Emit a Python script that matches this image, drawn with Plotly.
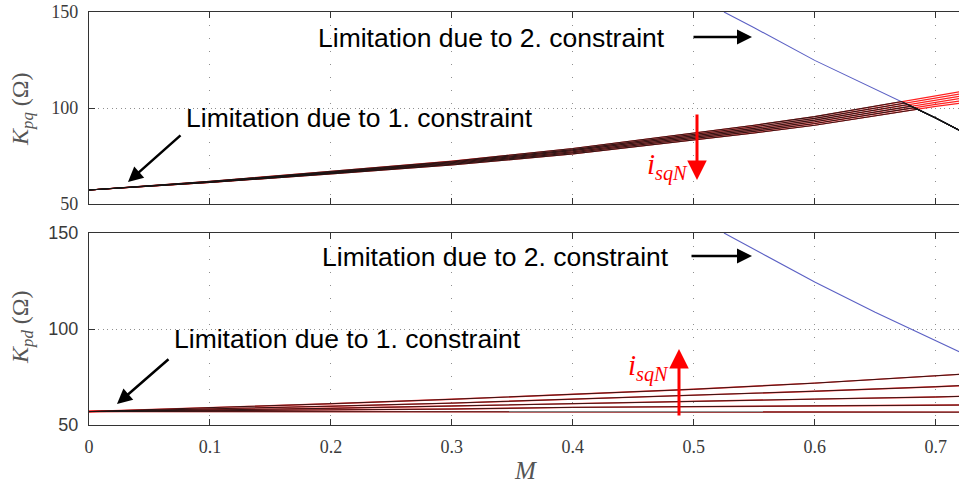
import numpy as np
import plotly.graph_objects as go

# ---------------- data ----------------
M_TOP = [0, 0.1, 0.2, 0.3, 0.4, 0.5, 0.55, 0.6, 0.65, 0.7, 0.72]
KPQ_1 = [57.3, 61.2, 65.7, 70.3, 76.1, 83.2, 87.0, 91.0, 96.0, 100.8, 102.5]
KPQ_2 = [57.3, 61.3, 65.9, 70.7, 76.7, 83.9, 87.8, 91.9, 97.0, 101.9, 103.7]
KPQ_3 = [57.3, 61.4, 66.2, 71.1, 77.2, 84.6, 88.6, 92.8, 98.0, 103.0, 104.9]
KPQ_4 = [57.3, 61.6, 66.4, 71.5, 77.8, 85.4, 89.4, 93.7, 99.0, 104.2, 106.1]
KPQ_5 = [57.3, 61.7, 66.7, 71.9, 78.3, 86.1, 90.2, 94.6, 100.0, 105.3, 107.3]
KPQ_6 = [57.3, 61.8, 67.0, 72.3, 78.9, 86.8, 91.0, 95.5, 101.0, 106.4, 108.5]

M_LIM2 = [0.525, 0.55, 0.6, 0.65, 0.7, 0.72]
KPQ_LIM2 = [150, 141.8, 124.8, 110.0, 94.8, 88.2]
KPD_LIM2 = [150, 141.5, 124.5, 108.7, 94.0, 88.0]

M_BOT = [0, 0.1, 0.2, 0.3, 0.4, 0.5, 0.6, 0.7, 0.72]
KPD_1 = [57.0, 59.0, 61.1, 63.4, 65.9, 68.6, 71.8, 75.4, 76.4]
KPD_2 = [57.0, 58.3, 59.8, 61.4, 63.4, 65.4, 67.6, 69.9, 70.5]
KPD_3 = [57.0, 57.8, 58.7, 59.9, 61.2, 62.4, 63.5, 64.6, 64.9]
KPD_4 = [57.0, 57.4, 57.8, 58.3, 59.2, 59.6, 59.9, 60.3, 60.4]
KPD_5 = [57.0, 57.0, 57.0, 56.9, 56.9, 56.8, 56.8, 56.7, 56.7]

X_TICKS = [0, 0.1, 0.2, 0.3, 0.4, 0.5, 0.6, 0.7]
X_LABELS = ["0", "0.1", "0.2", "0.3", "0.4", "0.5", "0.6", "0.7"]
Y_TICKS = [50, 100, 150]
Y_LABELS = ["50", "100", "150"]

TOP_FAMILY = [KPQ_1, KPQ_2, KPQ_3, KPQ_4, KPQ_5, KPQ_6]
BOT_FAMILY = [KPD_1, KPD_2, KPD_3, KPD_4, KPD_5]

# ---------------- geometry helpers ----------------
W, H = 959, 483
L, R, T, B = 89, 0, 12, 58
PW, PH = W - L - R, H - T - B


def px(x):
    return (x - L) / PW


def py(y):
    return (H - B - y) / PH


TOP_DOM = [py(204), 1.0]
BOT_DOM = [0.0, py(233)]


def envelope(m, k, mb, kb):
    """min(k, kb) with the crossing points of the two polylines added."""
    lim = dict(zip(mb, kb))
    xs, ys = [], []
    prev = None
    for mi, ki in zip(m, k):
        bi = lim.get(mi, np.inf)
        if prev is not None:
            pm, pk, pb = prev
            if np.isfinite(pb) and np.isfinite(bi):
                d0, d1 = pk - pb, ki - bi
                if d0 * d1 < 0:
                    t = d0 / (d0 - d1)
                    xs.append(pm + t * (mi - pm))
                    ys.append(pk + t * (ki - pk))
        xs.append(mi)
        ys.append(min(ki, bi))
        prev = (mi, ki, bi)
    return xs, ys


RED = "#ff2020"
BLACK = "#151515"
BLUE = "#5b60c4"

fig = go.Figure()

# top panel
fig.add_trace(go.Scatter(x=M_LIM2, y=KPQ_LIM2, mode="lines",
                         line=dict(color=BLUE, width=1.1), xaxis="x", yaxis="y"))
for k in TOP_FAMILY:
    fig.add_trace(go.Scatter(x=M_TOP, y=k, mode="lines",
                             line=dict(color=RED, width=1.2), xaxis="x", yaxis="y"))
for k in TOP_FAMILY:
    ex, ey = envelope(M_TOP, k, M_LIM2, KPQ_LIM2)
    fig.add_trace(go.Scatter(x=ex, y=ey, mode="lines", opacity=0.85,
                             line=dict(color=BLACK, width=1.1), xaxis="x", yaxis="y"))

# bottom panel
fig.add_trace(go.Scatter(x=M_LIM2, y=KPD_LIM2, mode="lines",
                         line=dict(color=BLUE, width=1.1), xaxis="x2", yaxis="y2"))
for k in BOT_FAMILY:
    fig.add_trace(go.Scatter(x=M_BOT, y=k, mode="lines",
                             line=dict(color=RED, width=1.4), xaxis="x2", yaxis="y2"))
for k in BOT_FAMILY:
    ex, ey = envelope(M_BOT, k, M_LIM2, KPD_LIM2)
    fig.add_trace(go.Scatter(x=ex, y=ey, mode="lines", opacity=0.85,
                             line=dict(color=BLACK, width=1.0), xaxis="x2", yaxis="y2"))

SERIF = "Liberation Serif"
SANS = "Liberation Sans"
AX = "#333333"

xcommon = dict(range=[0, 0.7193], tickvals=X_TICKS, ticktext=X_LABELS,
               showgrid=True, gridcolor="#8f8f8f", gridwidth=1, griddash="1px,12px",
               showline=True, linecolor=AX, linewidth=1.3, mirror="ticks",
               ticks="inside", ticklen=6, tickcolor=AX, tickwidth=1, zeroline=False)
ycommon = dict(range=[50, 150], tickvals=Y_TICKS, ticktext=Y_LABELS,
               showgrid=True, gridcolor="#8f8f8f", gridwidth=1, griddash="1px,3.5px",
               showline=True, linecolor=AX, linewidth=1.3,
               ticks="inside", ticklen=6, tickcolor=AX, tickwidth=1, zeroline=False,
               ticklabelstandoff=6)

fig.update_layout(
    width=W, height=H, margin=dict(l=L, r=R, t=T, b=B, pad=0),
    paper_bgcolor="white", plot_bgcolor="white", showlegend=False,
    xaxis=dict(xcommon, anchor="y", domain=[0, 1], showticklabels=False),
    yaxis=dict(ycommon, anchor="x", domain=TOP_DOM,
               tickfont=dict(family=SERIF, size=18, color="#3a3a3a")),
    xaxis2=dict(xcommon, anchor="y2", domain=[0, 1], ticklabelstandoff=5,
                tickfont=dict(family=SERIF, size=18, color="#3a3a3a")),
    yaxis2=dict(ycommon, anchor="x2", domain=BOT_DOM,
                tickfont=dict(family=SANS, size=18, color="#3a3a3a")),
)

# white boxes behind the text (hide the grid there)
for x0, x1, y0, y1 in [(165, 590, 97, 147), (280, 770, 13, 63),
                       (147, 580, 313, 367), (280, 770, 234, 284)]:
    fig.add_shape(type="rect", xref="paper", yref="paper",
                  x0=px(x0), x1=px(x1), y0=py(y1), y1=py(y0),
                  fillcolor="white", line=dict(width=0), layer="between")

ann = []


def text(s, x, y, size=26.5, color="black", family=SANS, anchor="left", angle=0):
    ann.append(dict(text=s, x=px(x), y=py(y), xref="paper", yref="paper",
                    xanchor=anchor, yanchor="middle", showarrow=False, textangle=angle,
                    font=dict(family=family, size=size, color=color)))


def arrow(x0, y0, x1, y1, color="black", width=2.5, size=1.2):
    ann.append(dict(text="", x=px(x1), y=py(y1), xref="paper", yref="paper",
                    ax=x0 - x1, ay=y0 - y1, axref="pixel", ayref="pixel",
                    showarrow=True, arrowhead=2, arrowsize=size, arrowwidth=width,
                    arrowcolor=color))


text("Limitation due to 1. constraint", 184, 118)
text("Limitation due to 2. constraint", 316, 38)
text("Limitation due to 2. constraint", 320, 257)
text("Limitation due to 1. constraint", 172, 339)

arrow(182, 134, 128, 182)
arrow(692, 37, 752, 37)
arrow(690, 256, 752, 256)
arrow(170, 358, 117, 404)

arrow(697, 113, 697, 180, color="#ff0000", width=3, size=1.3)
arrow(679, 417, 679, 349, color="#ff0000", width=3, size=1.3)
text("<i>i</i><sub><i>sqN</i></sub>", 667, 166, size=29, color="#ff0000",
     family=SERIF, anchor="center")
text("<i>i</i><sub><i>sqN</i></sub>", 648, 367, size=29, color="#ff0000",
     family=SERIF, anchor="center")

text("<i>K</i><sub><i>pq</i></sub> (Ω)", 22, 109, size=24, color="#555555",
     family=SERIF, anchor="center", angle=-90)
text("<i>K</i><sub><i>pd</i></sub> (Ω)", 22, 327, size=24, color="#555555",
     family=SERIF, anchor="center", angle=-90)
text("<i>M</i>", 525, 470, size=25, color="#555555", family=SERIF, anchor="center")

fig.update_layout(annotations=ann)

fig.write_html("out.html", config={"displayModeBar": False},
               post_script="document.body.style.margin='0px';"
                           "document.body.style.overflow='hidden';")
